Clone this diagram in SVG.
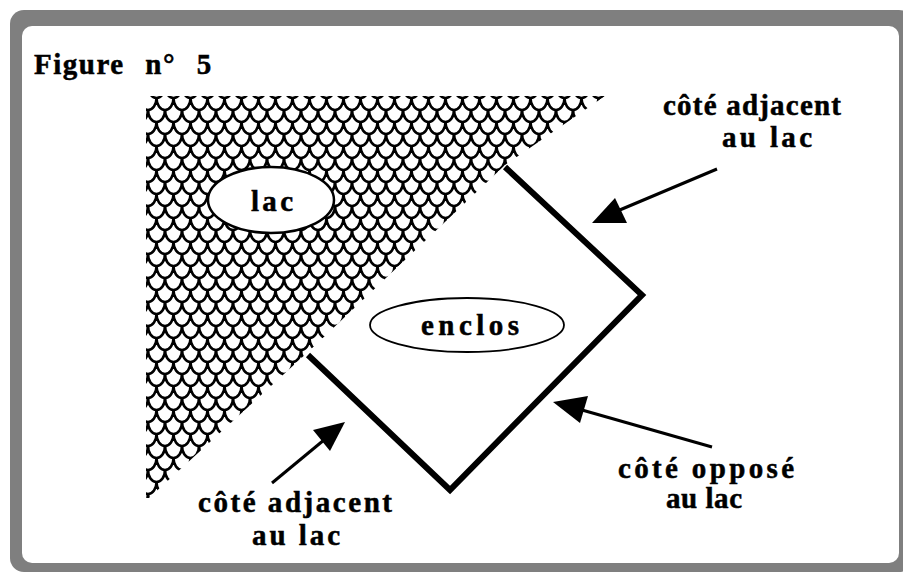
<svg xmlns="http://www.w3.org/2000/svg" width="903" height="576" viewBox="0 0 903 576">
  <style>
    .lbl { font-family: "Liberation Serif", "Times New Roman", serif; font-weight: bold; font-size: 29px; fill: #000; stroke: #000; stroke-width: 0.5; }
    .edge { fill: none; stroke: #000; stroke-width: 6; stroke-linejoin: miter; }
    .shaft { fill: none; stroke: #000; stroke-width: 3; }
    .head { fill: #000; }
    .oval { fill: #fff; stroke: #000; }
  </style>
  <defs>
    <pattern id="scales" patternUnits="userSpaceOnUse" x="148" y="98" width="17" height="24">
      <g fill="none" stroke="#000" stroke-width="2.6">
        <path d="M-8.5,0 A8.5,12 0 0 0 8.5,0 A8.5,12 0 0 0 25.5,0"/>
        <path d="M-8.5,24 A8.5,12 0 0 0 8.5,24 A8.5,12 0 0 0 25.5,24"/>
        <path d="M0,12 A8.5,12 0 0 0 17,12"/>
        <path d="M-17,12 A8.5,12 0 0 0 0,12"/>
        <path d="M17,12 A8.5,12 0 0 0 34,12"/>
        <path d="M0,-12 A8.5,12 0 0 0 17,-12"/>
      </g>
    </pattern>
    <clipPath id="lakeClip">
      <polygon points="146,96 605,96 505,165 308,352 149,498 146,498"/>
    </clipPath>
  </defs>

  <!-- frame -->
  <rect x="0" y="0" width="903" height="576" fill="#fff"/>
  <rect x="10" y="10" width="903" height="562" rx="14" fill="#7f7f7f"/>
  <rect x="22" y="26" width="877" height="537" rx="10" fill="#fff"/>

  <!-- lake -->
  <g id="lake">
    <rect x="140" y="90" width="470" height="415" fill="url(#scales)" clip-path="url(#lakeClip)"/>
  </g>

  <text class="lbl" x="34" y="74" font-size="31" letter-spacing="1.5" word-spacing="12">Figure n° 5</text>

  <!-- enclosure -->
  <g id="enclos-sides">
    <polyline class="edge" points="505,167 642,295 450,490 308,355"/>
  </g>

  <g id="node-lac">
    <ellipse class="oval" cx="271" cy="200" rx="63" ry="33" stroke-width="2.5"/>
    <text class="lbl" x="251" y="211" font-size="32" textLength="42" lengthAdjust="spacing">lac</text>
  </g>

  <g id="node-enclos">
    <ellipse class="oval" cx="467" cy="325" rx="97" ry="27" stroke-width="1.8"/>
    <text class="lbl" x="421" y="335" font-size="28" textLength="98" lengthAdjust="spacing">enclos</text>
  </g>

  <!-- connectors -->
  <g id="connectors">
    <line class="shaft" x1="717" y1="169" x2="615" y2="212"/>
    <polygon class="head" points="592,223 615,198 627,223"/>
    <line class="shaft" x1="272" y1="483" x2="330" y2="435"/>
    <polygon class="head" points="345,422 313,430 330,451"/>
    <line class="shaft" x1="712" y1="447" x2="575" y2="408"/>
    <polygon class="head" points="553,402 588,396 580,423"/>
  </g>

  <g id="label-top-right">
    <text class="lbl" x="663" y="115" textLength="178" lengthAdjust="spacing">côté adjacent</text>
    <text class="lbl" x="722" y="147" textLength="90" lengthAdjust="spacing">au lac</text>
  </g>
  <g id="label-bottom-right">
    <text class="lbl" x="618" y="478" textLength="176" lengthAdjust="spacing">côté opposé</text>
    <text class="lbl" x="666" y="508" textLength="76" lengthAdjust="spacing">au lac</text>
  </g>
  <g id="label-bottom-left">
    <text class="lbl" x="198" y="512" textLength="194" lengthAdjust="spacing">côté adjacent</text>
    <text class="lbl" x="252" y="545" textLength="88" lengthAdjust="spacing">au lac</text>
  </g>
</svg>
